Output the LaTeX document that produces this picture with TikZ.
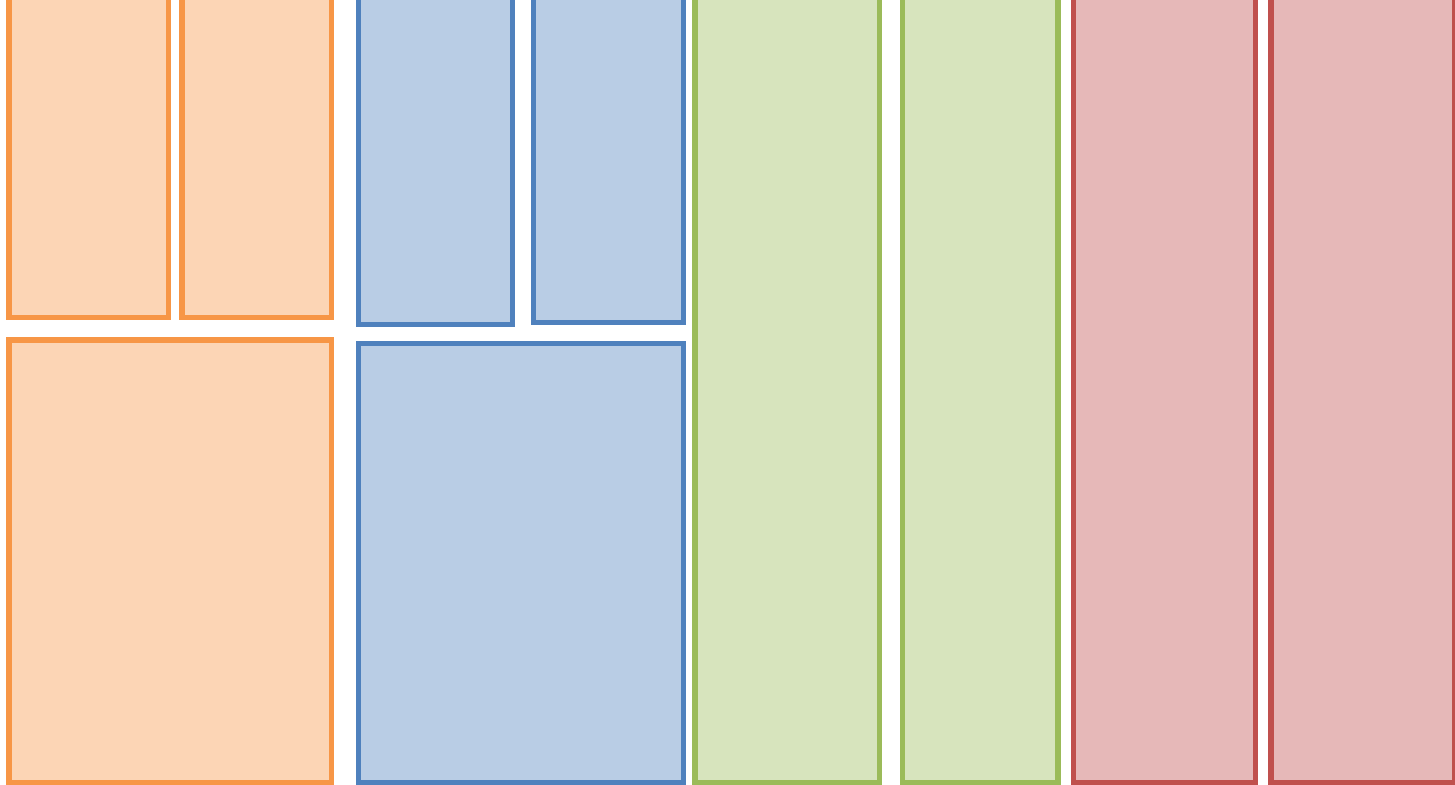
\documentclass[tikz,border=0pt]{standalone}
\begin{document}
\begin{tikzpicture}[x=1pt,y=-1pt,
  box/.style={line width=5.3pt},
  orangebox/.style={box,draw={rgb,255:red,247;green,150;blue,70},fill={rgb,255:red,252;green,213;blue,181}},
  bluebox/.style={box,draw={rgb,255:red,79;green,129;blue,189},fill={rgb,255:red,185;green,205;blue,229}},
  greenbox/.style={box,draw={rgb,255:red,155;green,187;blue,89},fill={rgb,255:red,215;green,228;blue,189}},
  redbox/.style={box,draw={rgb,255:red,192;green,80;blue,77},fill={rgb,255:red,230;green,184;blue,184}}]
\useasboundingbox (0,0) rectangle (1455,784);
\clip (0,0) rectangle (1455,784);
% orange group
\draw[orangebox] (9,-10) rectangle (168.3,317.5);
\draw[orangebox] (182,-10) rectangle (331.7,317.5);
\draw[orangebox] (9,340) rectangle (331.7,782.5);
% blue group
\draw[bluebox] (358.7,-10) rectangle (512.3,324.2);
\draw[bluebox] (533.5,-10) rectangle (683.3,322.8);
\draw[bluebox] (358.7,343.3) rectangle (683.3,782.5);
% green group
\draw[greenbox] (695,-10) rectangle (879.3,782.5);
\draw[greenbox] (902.3,-10) rectangle (1058,782.5);
% red group
\draw[redbox] (1073.3,-10) rectangle (1255.7,782.5);
\draw[redbox] (1271,-10) rectangle (1454.6,782.5);
\end{tikzpicture}
\end{document}
